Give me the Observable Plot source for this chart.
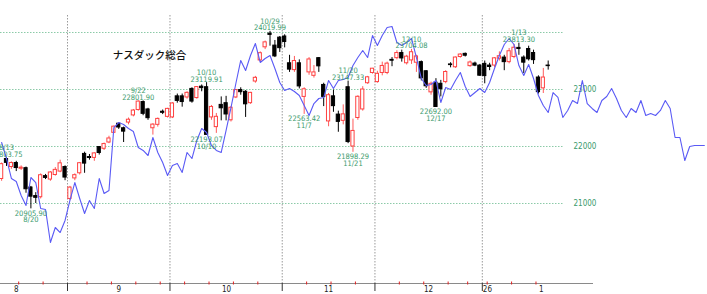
<!DOCTYPE html>
<html><head><meta charset="utf-8">
<script src="https://cdn.jsdelivr.net/npm/d3@7"></script>
<script src="https://cdn.jsdelivr.net/npm/@observablehq/plot@0.6"></script>
<style>html,body{margin:0;padding:0;background:#fff;overflow:hidden}#chart svg{display:block}</style>
</head><body><div id="chart"></div>
<script>
// ---- data ----
const dates = [
"2025-08-12","2025-08-13","2025-08-14","2025-08-15","2025-08-18","2025-08-19","2025-08-20","2025-08-21","2025-08-22","2025-08-25","2025-08-26","2025-08-27","2025-08-28","2025-08-29",
"2025-09-02","2025-09-03","2025-09-04","2025-09-05","2025-09-08","2025-09-09","2025-09-10","2025-09-11","2025-09-12","2025-09-15","2025-09-16","2025-09-17","2025-09-18","2025-09-19","2025-09-22","2025-09-23","2025-09-24","2025-09-25","2025-09-26","2025-09-29","2025-09-30",
"2025-10-01","2025-10-02","2025-10-03","2025-10-06","2025-10-07","2025-10-08","2025-10-09","2025-10-10","2025-10-13","2025-10-14","2025-10-15","2025-10-16","2025-10-17","2025-10-20","2025-10-21","2025-10-22","2025-10-23","2025-10-24","2025-10-27","2025-10-28","2025-10-29","2025-10-30","2025-10-31",
"2025-11-03","2025-11-04","2025-11-05","2025-11-06","2025-11-07","2025-11-10","2025-11-11","2025-11-12","2025-11-13","2025-11-14","2025-11-17","2025-11-18","2025-11-19","2025-11-20","2025-11-21","2025-11-24","2025-11-25","2025-11-26","2025-11-28",
"2025-12-01","2025-12-02","2025-12-03","2025-12-04","2025-12-05","2025-12-08","2025-12-09","2025-12-10","2025-12-11","2025-12-12","2025-12-15","2025-12-16","2025-12-17","2025-12-18","2025-12-19","2025-12-22","2025-12-23","2025-12-24","2025-12-26","2025-12-29","2025-12-30","2025-12-31",
"2026-01-02","2026-01-05","2026-01-06","2026-01-07","2026-01-08","2026-01-09","2026-01-12","2026-01-13","2026-01-14","2026-01-15","2026-01-16","2026-01-20","2026-01-21","2026-01-22"];

const open = [21430,21780,21640,21710,21610,21620,21280,21130,21110,21480,21420,21500,21560,21640,
21080,21440,21530,21870,21815,21800,21990,21960,22070,22240,22400,22320,22420,22545,22640,22780,22650,22320,22380,22610,22520,
22510,22880,22880,22860,23010,22850,23050,23040,22510,22340,22730,22760,22460,22860,22990,22960,22760,23140,23510,23740,23980,23770,23910,
23930,23460,23340,23460,22870,23300,23240,23550,23080,22440,22880,22560,22450,23040,22000,22500,22650,23110,23290,
23130,23290,23290,23520,23550,23640,23460,23510,23470,23480,23320,22950,23120,23100,23130,23440,23390,23570,23625,23410,23455,23420,
23450,23420,23420,23540,23560,23480,23570,23730,23560,23710,23640,23210,23020,23420];

const high = [21710,21803.75,21730,21740,21660,21640,21300,21190,21520,21510,21560,21630,21760,21660,
21300,21520,21720,21900,21860,21890,22000,22060,22180,22360,22420,22340,22500,22650,22801.90,22800,22670,22400,22500,22640,22670,
22770,22920,22920,22960,23030,23050,23080,23119.91,22720,22580,22870,22880,22700,23000,23030,22980,22950,23230,23660,23850,24019.99,23860,23930,
23960,23600,23580,23520,23030,23560,23420,23560,23110,22930,22990,22620,22730,23147.33,22480,22890,23050,23230,23370,
23320,23480,23480,23560,23680,23690,23600,23704.08,23600,23500,23330,23130,23190,23160,23330,23470,23570,23630,23640,23500,23480,23440,
23500,23460,23560,23660,23600,23720,23790,23813.30,23590,23760,23690,23240,23370,23500];

const low = [21390,21650,21600,21560,21580,21180,20905.90,21000,21080,21420,21390,21480,21540,21400,
21050,21400,21500,21530,21760,21740,21850,21930,22050,22230,22300,22070,22380,22520,22620,22540,22460,22200,22340,22560,22500,
22490,22760,22690,22830,22760,22830,22960,22193.07,22460,22230,22450,22450,22430,22840,22900,22510,22740,23110,23480,23700,23760,23560,23650,
23730,23300,23300,23010,22563.42,23250,23200,23300,22700,22346,22600,22250,22380,22050,21898.29,22460,22620,23090,23270,
23110,23240,23260,23400,23520,23480,23430,23440,23300,23150,23020,22900,22692.00,22870,23100,23380,23370,23550,23570,23390,23400,23230,
23100,23330,23380,23500,23330,23450,23540,23600,23280,23500,23440,22920,22930,23340];

const close = [21690,21713,21710,21622,21629,21250,21120,21100,21496,21449,21544,21590,21705,21455,
21279,21497,21707,21700,21798,21879,21886,22043,22141,22348,22333,22261,22470,22631,22788,22573,22497,22384,22484,22591,22660,
22755,22800,22780,22941,22788,23043,23024,22204,22694,22521,22670,22562,22680,22991,22953,22740,22941,23205,23637,23827,23958,23581,23725,
23834,23349,23500,23054,23004,23527,23300,23406,22870,22900,22708,22432,22564,22078,22273,22872,23000,23214,23365,
23275,23413,23454,23505,23640,23545,23576,23654,23580,23195,23057,23100,22693,23006,23307,23428,23561,23613,23593,23474,23419,23242,
23235,23395,23547,23584,23480,23671,23733,23710,23471,23530,23515,22954,23210,23410];

// overlay line (blue), one value per trading-day slot, continues past the last candle
const blueLine = [22070,21789,21439,21386,21140,20965,21456,21368,20912,20895,20316,20579,20491,20702,
21053,21368,21088,20825,21053,20912,21439,21175,21228,22333,22421,22386,22316,22263,21982,21930,21842,22158,21895,21719,21491,
21667,21702,21544,21895,21789,22105,22316,22246,22018,21930,21895,22281,22684,23105,23509,23333,23596,23807,23474,23544,23596,23368,23123,
22982,23018,22965,22895,22719,22544,22754,22842,22860,23158,23018,23158,23175,23211,23421,23561,23684,23561,23947,
23772,23947,24088,24105,23825,23772,23825,23895,23561,23193,23070,23088,23158,22772,23035,23000,23158,23298,23053,22877,22947,23018,
22947,23123,23368,23596,23789,23895,23789,23421,23246,23439,23193,22895,22719,22596,
22947,22860,22509,22632,22807,22754,23158,22754,22667,22596,22807,22877,23018,22842,22632,22509,22667,22596,22807,22544,22579,22544,22632,22807,22667,22158,22158,21754,22000,22018,22018,22018];

const yTicks = [24000, 23000, 22000, 21000];
const yTickLabels = ["", "23000", "22000", "21000"];
const monthLabels = ["8", "9", "10", "11", "12", "1"];
const monthLabelSlots = [3.0, 24.0, 46.1, 67.0, 87.5, 110.6]; // mid-month, in trading-day slots
const yearLabel = "26";
const highMarks = ["2025-08-13","2025-09-22","2025-10-10","2025-10-29","2025-11-20","2025-12-10","2026-01-13"];
const lowMarks = ["2025-08-20","2025-10-10","2025-11-07","2025-11-21","2025-12-17"];
const title = "ナスダック総合";

// ---- derived tables ----
const candles = dates.map((d, i) => ({i, date: d, o: open[i], h: high[i], l: low[i], c: close[i], up: close[i] >= open[i]}));
const md = s => { const p = s.split("-").map(Number); return `${p[1]}/${p[2]}`; };
const byDate = new Map(candles.map(c => [c.date, c]));
const highs = highMarks.map(d => byDate.get(d));
const lows = lowMarks.map(d => byDate.get(d));
const blue = blueLine.map((v, i) => ({i, v}));
const monthBounds = [], weekBounds = [];
for (let i = 1; i < dates.length; i++) {
  const a = new Date(dates[i - 1]), b = new Date(dates[i]);
  if (a.getUTCMonth() !== b.getUTCMonth()) monthBounds.push(i - 0.5);
  else if (b.getUTCDay() < a.getUTCDay()) weekBounds.push(i - 0.5);
}
const yearBound = dates.findIndex(d => d.startsWith("2026")) - 0.5;

// layout helpers (pixel -> scale units), used only for frame elements
const ix = px => 13.5 + (px - 67) / 4.88;
const vy = py => 24000 - (py - 32) / 0.057;

const NUM = "'Liberation Sans Narrow','Arial Narrow','DejaVu Sans Condensed',sans-serif";
const GREEN = "#3a9a6c";
const RED = "#ff4040";

const chart = Plot.plot({
  width: 707, height: 294, margin: 0,
  style: {background: "#fff", fontFamily: NUM},
  x: {type: "linear", domain: [ix(0), ix(707)], range: [0, 707], axis: null},
  y: {type: "linear", domain: [21000, 24000], range: [203, 32], axis: null},
  marks: [
    Plot.ruleY(yTicks, {x1: ix(0), x2: ix(563), stroke: "#8ccaa8", strokeDasharray: "1.5,1.5"}),
    Plot.ruleX(monthBounds, {x: d => d, y1: vy(15), y2: vy(283), stroke: "#9a9a9a", strokeDasharray: "1.5,1.5"}),
    Plot.ruleY([0], {y: () => vy(283), x1: ix(0), x2: ix(593), stroke: "#8a8a8a"}),
    Plot.ruleX(monthBounds, {x: d => d, y1: vy(283), y2: vy(291), stroke: "#333"}),
    Plot.ruleX(weekBounds, {x: d => d, y1: vy(281.5), y2: vy(284.5), stroke: "#e02020"}),
    Plot.text(monthLabels, {x: (d, i) => monthLabelSlots[i], y: vy(288.5), text: d => d, fontSize: 8, fill: "#222"}),
    Plot.text([yearLabel], {x: yearBound, dx: 0.5, textAnchor: "start", y: vy(288.5), text: d => d, fontSize: 8, fill: "#222"}),
    Plot.text(yTicks, {x: ix(573), y: d => d, text: (d, i) => yTickLabels[i], textAnchor: "start", fontSize: 8, fill: GREEN}),
    Plot.text([title], {x: ix(149), y: vy(55), text: d => d, fontSize: 10.5, fill: "#111", fontFamily: "'Noto Sans CJK JP',sans-serif", fontWeight: 500}),
    // wicks
    Plot.ruleX(candles, {x: "i", y1: "l", y2: "h", stroke: d => d.up ? "#ff5a5a" : "#000", strokeWidth: 1}),
    // bodies
    Plot.rect(candles, {x1: d => d.i - 0.33, x2: d => d.i + 0.33, y1: "o", y2: "c",
      fill: d => d.up ? "#fff" : "#000", stroke: d => d.up ? RED : "#000", strokeWidth: 1}),
    // overlay line
    Plot.line(blue, {x: "i", y: "v", stroke: "#5a5af5", strokeWidth: 1.1}),
    // annotations
    Plot.text(highs, {x: "i", y: "h", text: d => `${md(d.date)}\n${d.h.toFixed(2)}`, lineAnchor: "bottom", lineHeight: 0.9, dy: -1, fontSize: 7.5, fill: GREEN}),
    Plot.text(lows, {x: "i", y: "l", text: d => `${d.l.toFixed(2)}\n${md(d.date)}`, lineAnchor: "top", lineHeight: 0.9, dy: 2, fontSize: 7.5, fill: GREEN})
  ]
});
document.getElementById("chart").append(chart);
</script>
</body></html>
